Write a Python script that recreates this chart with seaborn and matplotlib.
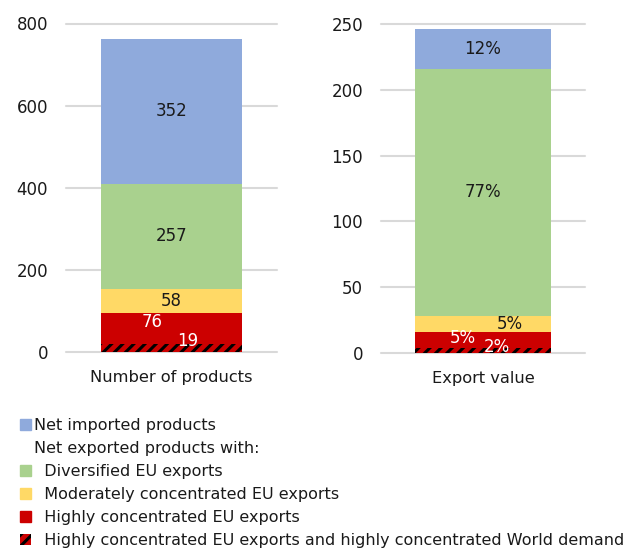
import matplotlib
matplotlib.use("Agg")
import matplotlib.pyplot as plt
from matplotlib.patches import Patch
import seaborn as sns
import pandas as pd
import numpy as np

sns.set_style("white")
plt.rcParams['font.family'] = ['DejaVu Sans']
plt.rcParams['hatch.linewidth'] = 2.2

# ---- data ----
series = ["Highly concentrated EU exports and highly concentrated World demand",
          "Highly concentrated EU exports",
          "Moderately concentrated EU exports",
          "Diversified EU exports",
          "Net imported products"]
colors = ["#CC0000", "#CC0000", "#FFD966", "#A9D18E", "#8FAADC"]
hatches = ["///", None, None, None, None]

left_cat = "Number of products"
left_vals = [19, 76, 58, 257, 352]
left_labels = ["19", "76", "58", "257", "352"]

right_cat = "Export value"
right_vals = [4, 12, 12, 188, 30]
right_labels = ["2%", "5%", "5%", "77%", "12%"]

left_ticks = [0, 200, 400, 600, 800]
right_ticks = [0, 50, 100, 150, 200, 250]

# label placement tweaks (x offset in category units, y offset in fraction of segment)
left_offsets = [(0.075, 0.85), (-0.09, 0.2), (0, 0), (0, 0), (0, 0)]
right_offsets = [(0.07, 0.55), (-0.10, 0.1), (0.13, 0.0), (0, 0), (0, 0)]
label_colors = ["white", "white", "#1a1a1a", "#1a1a1a", "#1a1a1a"]

W, H = 629, 549
fig = plt.figure(figsize=(W / 100, H / 100), dpi=100)

def px_axes(x0, x1, ytop, ybot):
    return fig.add_axes([x0 / W, 1 - ybot / H, (x1 - x0) / W, (ybot - ytop) / H])

ax1 = px_axes(66, 277, 23.5, 352)
ax2 = px_axes(381, 585, 24, 353)

def draw(ax, cat, vals, labels, offsets, ticks, ymax):
    bottoms = np.concatenate([[0], np.cumsum(vals)[:-1]])
    for v, b, c, h, name in zip(vals, bottoms, colors, hatches, series):
        df = pd.DataFrame({"cat": [cat], "val": [v]})
        kw = dict(edgecolor="black", hatch=h) if h else dict(edgecolor=c)
        sns.barplot(data=df, x="cat", y="val", color=c, saturation=1,
                    width=0.67, bottom=b, linewidth=0, ax=ax, **kw)
    for v, b, lab, (dx, fy), lc in zip(vals, bottoms, labels, offsets, label_colors):
        ax.text(0 + dx, b + v / 2 + fy * v, lab, ha="center", va="center",
                fontsize=12, color=lc)
    ax.set_ylim(0, ymax)
    ax.set_yticks(ticks)
    ax.set_xlim(-0.5, 0.5)
    ax.set_xlabel("")
    ax.set_ylabel("")
    ax.yaxis.grid(True, color="#D9D9D9", linewidth=1.5)
    ax.set_axisbelow(True)
    for s in ax.spines.values():
        s.set_visible(False)
    ax.tick_params(axis="y", length=0, pad=13, labelsize=12, labelcolor="#1a1a1a")
    ax.tick_params(axis="x", length=0, pad=13, labelsize=11.7, labelcolor="#1a1a1a")
    for gl in ax.yaxis.get_gridlines():
        gl.set_clip_on(False)

draw(ax1, left_cat, left_vals, left_labels, left_offsets, left_ticks, 800)
draw(ax2, right_cat, right_vals, right_labels, right_offsets, right_ticks, 250)

handles = [
    Patch(facecolor=colors[4], edgecolor=colors[4]),
    Patch(facecolor="none", edgecolor="none"),
    Patch(facecolor=colors[3], edgecolor=colors[3]),
    Patch(facecolor=colors[2], edgecolor=colors[2]),
    Patch(facecolor=colors[1], edgecolor=colors[1]),
    Patch(facecolor=colors[0], edgecolor="black", hatch="///", linewidth=0),
]
leg_labels = [series[4], "Net exported products with:",
              "  " + series[3], "  " + series[2], "  " + series[1], "  " + series[0]]
leg = fig.legend(handles, leg_labels, loc="upper left",
                 bbox_to_anchor=(20 / W, 1 - 418 / H), bbox_transform=fig.transFigure,
                 frameon=False, fontsize=11.55, handlelength=0.68, handleheight=0.68,
                 handletextpad=0.2, labelspacing=0.5, borderpad=0, borderaxespad=0)
for t in leg.get_texts():
    t.set_color("#1a1a1a")

fig.savefig("out.png", dpi=100)
